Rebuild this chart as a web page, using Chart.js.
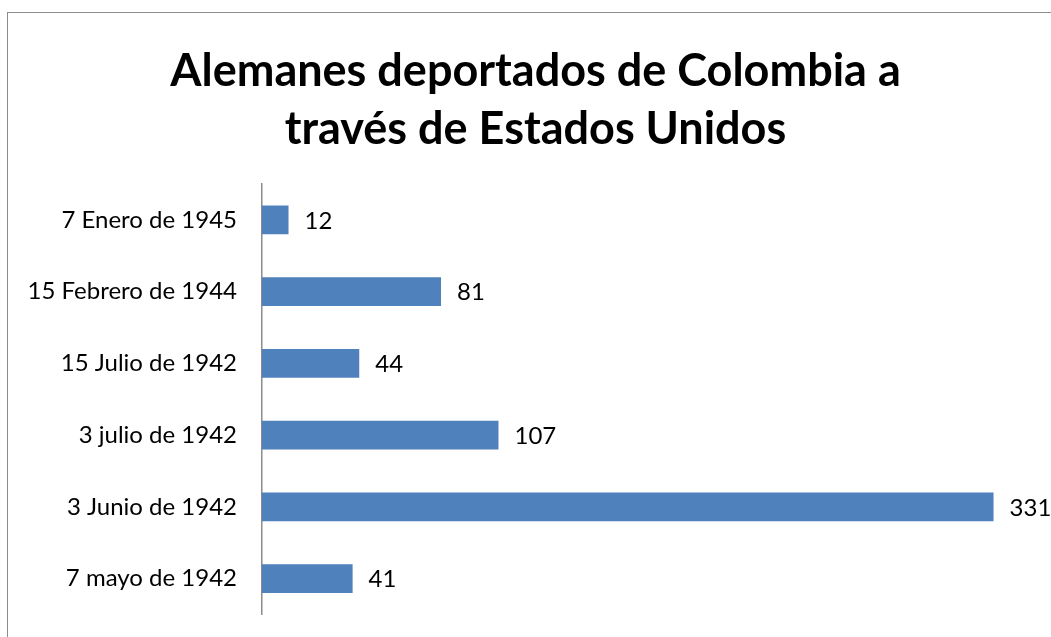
<!DOCTYPE html>
<html><head><meta charset="utf-8">
<script src="https://cdn.jsdelivr.net/npm/chart.js@4/dist/chart.umd.min.js"></script>
<style>
html,body{margin:0;padding:0;overflow:hidden;background:#fff;}
#wrap{position:relative;width:1051px;height:637px;}
#frame{position:absolute;left:7px;top:12px;width:1100px;height:700px;border:1.5px solid #8c8c8c;box-sizing:border-box;}
canvas{position:absolute;left:0;top:0;}
</style></head>
<body><div id="wrap"><div id="frame"></div><canvas id="c" width="1051" height="637"></canvas></div>
<script>
const titleLines = ["Alemanes deportados de Colombia a", "través de Estados Unidos"];
const categories = ["7 Enero de 1945", "15 Febrero de 1944", "15 Julio de 1942", "3 julio de 1942", "3 Junio de 1942", "7 mayo de 1942"];
const deportados = [12, 81, 44, 107, 331, 41];

const FONT = "Lato, 'Open Sans', sans-serif";

const valueLabels = {
  id: 'valueLabels',
  afterDatasetsDraw(chart) {
    const ctx = chart.ctx;
    const meta = chart.getDatasetMeta(0);
    ctx.save();
    ctx.font = "24px " + FONT;
    ctx.fillStyle = "#000";
    ctx.textAlign = "left";
    ctx.textBaseline = "middle";
    meta.data.forEach((bar, i) => {
      ctx.fillText(String(chart.data.datasets[0].data[i]), bar.x + 16, bar.y + 1);
    });
    ctx.restore();
  }
};

new Chart(document.getElementById('c'), {
  type: 'bar',
  data: {
    labels: categories,
    datasets: [{
      data: deportados,
      backgroundColor: '#4F81BD',
      borderWidth: 0,
      categoryPercentage: 0.8,
      barPercentage: 0.505
    }]
  },
  options: {
    indexAxis: 'y',
    responsive: false,
    animation: false,
    devicePixelRatio: 1,
    layout: { padding: { left: 20, right: 0, top: 0, bottom: 22.5 } },
    plugins: {
      legend: { display: false },
      tooltip: { enabled: false },
      title: {
        display: true,
        text: titleLines,
        color: '#000',
        font: { family: FONT, size: 45, weight: 'bold', lineHeight: '58px' },
        padding: { top: 42, bottom: 26 }
      }
    },
    scales: {
      x: {
        display: false,
        min: 0,
        max: 357
      },
      y: {
        afterFit(scale) { scale.width = 242; scale.paddingTop = 0; scale.paddingBottom = 0; },
        grid: { display: false, drawTicks: false },
        border: { display: true, color: '#8c8c8c', width: 1.5 },
        ticks: {
          color: '#000',
          padding: 25,
          font: { family: FONT, size: 24 }
        }
      }
    }
  },
  plugins: [valueLabels]
});
</script>
</body></html>
